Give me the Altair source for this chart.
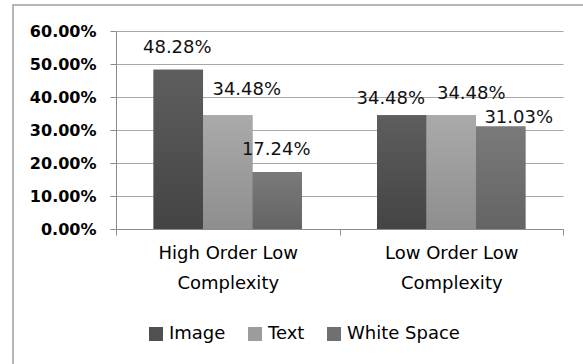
import altair as alt
import pandas as pd

# Categories and series
groups = ["High Order Low Complexity", "Low Order Low Complexity"]
series = ["Image", "Text", "White Space"]

# Percent values per series, in group order
image_pct = [48.28, 34.48]
text_pct = [34.48, 34.48]
white_space_pct = [17.24, 31.03]

# Axis ticks
y_ticks = [0.0, 0.1, 0.2, 0.3, 0.4, 0.5, 0.6]

# Solid colours for the legend, top/bottom shades for the bar gradients
solid = ["#505050", "#9c9c9c", "#707070"]
shades = {
    "Image": ("#5e5e5e", "#444444"),
    "Text": ("#aaaaaa", "#8e8e8e"),
    "White Space": ("#7a7a7a", "#646464"),
}

# Data-label nudges (dx, dy) in pixels, keyed by (group index, series)
label_nudge = {
    (0, "Image"): (-1, -17),
    (0, "Text"): (19, -20),
    (0, "White Space"): (-1, -17),
    (1, "Image"): (-11, -11),
    (1, "Text"): (20, -16),
    (1, "White Space"): (18, -4),
}

rows = []
for s, vals in zip(series, [image_pct, text_pct, white_space_pct]):
    for gi, (g, v) in enumerate(zip(groups, vals)):
        rows.append({"group": g, "gi": gi, "series": s, "share": v / 100.0,
                     "label": f"{v:.2f}%"})
df = pd.DataFrame(rows)

FONT = "DejaVu Sans"
W, H = 447, 198

x_enc = alt.X(
    "group:N",
    sort=groups,
    scale=alt.Scale(paddingInner=0, paddingOuter=0),
    axis=alt.Axis(
        title=None,
        labelAngle=0,
        labelFont=FONT,
        labelFontSize=18,
        labelColor="#000000",
        labelLineHeight=30,
        labelPadding=9,
        labelBaseline="top",
        labelExpr=("isValid(datum.value) ? "
                   "[replace(datum.value, ' Complexity', ''), 'Complexity'] : ''"),
        tickBand="extent",
        tickSize=6,
        tickColor="#8c8c8c",
        domainColor="#8c8c8c",
        grid=False,
    ),
)
xo_enc = alt.XOffset(
    "series:N",
    sort=series,
    scale=alt.Scale(domain=series, paddingOuter=0.76, paddingInner=0),
)
y_enc = alt.Y(
    "share:Q",
    scale=alt.Scale(domain=[0, 0.6], nice=False),
    axis=alt.Axis(
        title=None,
        values=y_ticks,
        format=".2%",
        labelFont=FONT,
        labelFontSize=16,
        labelFontWeight="bold",
        labelColor="#000000",
        labelPadding=14,
        tickSize=6,
        tickColor="#8c8c8c",
        domainColor="#8c8c8c",
        gridColor="#a8a8a8",
        gridWidth=1,
    ),
)

base = alt.Chart(df)

# Solid bars carry the legend
bars = base.mark_bar().encode(
    x=x_enc,
    xOffset=xo_enc,
    y=y_enc,
    color=alt.Color(
        "series:N",
        sort=series,
        scale=alt.Scale(domain=series, range=solid),
        legend=alt.Legend(
            title=None,
            orient="none",
            legendX=31,
            legendY=294,
            direction="horizontal",
            symbolType="square",
            symbolSize=196,
            symbolStrokeWidth=0,
            labelFont=FONT,
            labelFontSize=18,
            labelColor="#000000",
            labelOffset=4,
            columnPadding=20,
        ),
    ),
)

# Shaded bars drawn over the solid ones
shaded = []
for s in series:
    top, bottom = shades[s]
    shaded.append(
        base.transform_filter(alt.datum.series == s)
        .mark_bar(
            color=alt.Gradient(
                gradient="linear",
                stops=[alt.GradientStop(color=top, offset=0),
                       alt.GradientStop(color=bottom, offset=1)],
                x1=0, x2=0, y1=0, y2=1,
            )
        )
        .encode(x=x_enc, xOffset=xo_enc, y=y_enc)
    )

# Value labels
labels = []
for (gi, s), (dx, dy) in label_nudge.items():
    labels.append(
        base.transform_filter((alt.datum.series == s) & (alt.datum.gi == gi))
        .mark_text(font=FONT, fontSize=18, color="#111111",
                   baseline="alphabetic", align="center", dx=dx, dy=dy)
        .encode(x=x_enc, xOffset=xo_enc, y=y_enc, text="label:N")
    )

# Chart frame
frame = alt.Chart(alt.Data(values=[{}])).mark_rect(
    fill=None, stroke="#a0a0a0", strokeWidth=1.5
).encode(
    x=alt.value(-103), x2=alt.value(W + 60),
    y=alt.value(-26), y2=alt.value(H + 200),
)

chart = alt.layer(frame, bars, *shaded, *labels).properties(
    width=W,
    height=H,
    autosize=alt.AutoSizeParams(type="none"),
    padding={"left": 116, "top": 31, "right": 20, "bottom": 135},
    background="#ffffff",
).configure_view(stroke=None)

chart.save("out.html", embed_options={"renderer": "svg", "actions": False})
